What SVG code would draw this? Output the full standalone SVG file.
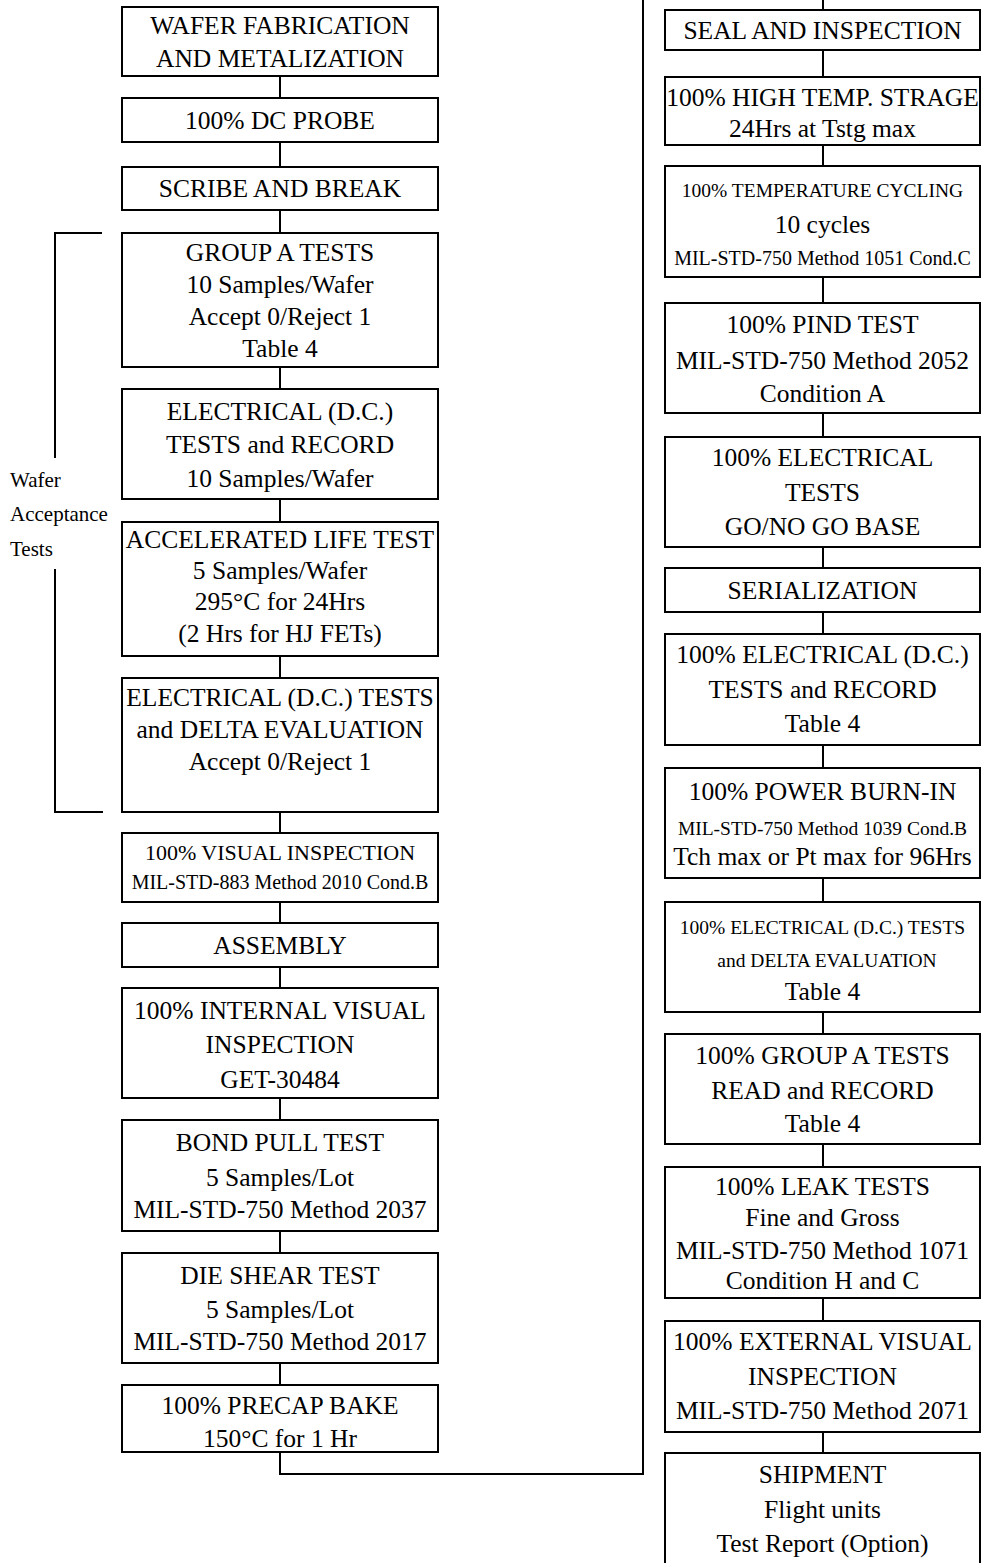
<svg xmlns="http://www.w3.org/2000/svg" width="991" height="1563" viewBox="0 0 991 1563">
<style>
.box{fill:#fff;stroke:#000;stroke-width:2}
.c{fill:none;stroke:#000;stroke-width:2}
text{font-family:"Liberation Serif","Times New Roman",serif;fill:#000}
.t{font-size:25.5px;text-anchor:middle}
.m{font-size:22px;text-anchor:middle}
.s{font-size:20px;text-anchor:middle}
.xs{font-size:19.5px;text-anchor:middle}
.lbl{font-size:21px}
</style>
<rect width="991" height="1563" fill="#fff"/>
<g id="connectors">
<path class="c" d="M280,76V98M280,142V167M280,210V233M280,367V389M280,499V522M280,656V678M280,812V833M280,902V923M280,967V988M280,1098V1120M280,1231V1253M280,1363V1385"/>
<path class="c" d="M280,1452V1474H643V0"/>
<path class="c" d="M823,0V10M823,50V77M823,145V166M823,277V303M823,413V437M823,547V568M823,612V634M823,745V768M823,878V902M823,1012V1034M823,1144V1167M823,1298V1321M823,1432V1453"/>
<path class="c" d="M102,233H55V458M55,569V812H103"/>
</g>
<g id="label-wafer-acceptance">
<text class="lbl" x="10" y="487">Wafer</text>
<text class="lbl" x="10" y="521">Acceptance</text>
<text class="lbl" x="10" y="556">Tests</text>
</g>
<g id="n1"><rect class="box" x="122" y="7" width="316" height="69"/>
<text class="t" x="280" y="34">WAFER FABRICATION</text><text class="t" x="280" y="67">AND METALIZATION</text></g>
<g id="n2"><rect class="box" x="122" y="98" width="316" height="44"/>
<text class="t" x="280" y="128.5">100% DC PROBE</text></g>
<g id="n3"><rect class="box" x="122" y="167" width="316" height="43"/>
<text class="t" x="280" y="196.5">SCRIBE AND BREAK</text></g>
<g id="n4"><rect class="box" x="122" y="233" width="316" height="134"/>
<text class="t" x="280" y="260.5">GROUP A TESTS</text><text class="t" x="280" y="292.5">10 Samples/Wafer</text><text class="t" x="280" y="324.5">Accept 0/Reject 1</text><text class="t" x="280" y="356.5">Table 4</text></g>
<g id="n5"><rect class="box" x="122" y="389" width="316" height="110"/>
<text class="t" x="280" y="419.5">ELECTRICAL (D.C.)</text><text class="t" x="280" y="452.5">TESTS and RECORD</text><text class="t" x="280" y="486.5">10 Samples/Wafer</text></g>
<g id="n6"><rect class="box" x="122" y="522" width="316" height="134"/>
<text class="t" x="280" y="547.5">ACCELERATED LIFE TEST</text><text class="t" x="280" y="578.5">5 Samples/Wafer</text><text class="t" x="280" y="609.5">295°C for 24Hrs</text><text class="t" x="280" y="641.5">(2 Hrs for HJ FETs)</text></g>
<g id="n7"><rect class="box" x="122" y="678" width="316" height="134"/>
<text class="t" x="280" y="705.5">ELECTRICAL (D.C.) TESTS</text><text class="t" x="280" y="737.5">and DELTA EVALUATION</text><text class="t" x="280" y="769.5">Accept 0/Reject 1</text></g>
<g id="n8"><rect class="box" x="122" y="833" width="316" height="69"/>
<text class="m" x="280" y="859.5">100% VISUAL INSPECTION</text><text class="s" x="280" y="888.5">MIL-STD-883 Method 2010 Cond.B</text></g>
<g id="n9"><rect class="box" x="122" y="923" width="316" height="44"/>
<text class="t" x="280" y="953.5">ASSEMBLY</text></g>
<g id="n10"><rect class="box" x="122" y="988" width="316" height="110"/>
<text class="t" x="280" y="1018.5">100% INTERNAL VISUAL</text><text class="t" x="280" y="1052.5">INSPECTION</text><text class="t" x="280" y="1087.5">GET-30484</text></g>
<g id="n11"><rect class="box" x="122" y="1120" width="316" height="111"/>
<text class="t" x="280" y="1150.5">BOND PULL TEST</text><text class="t" x="280" y="1185.5">5 Samples/Lot</text><text class="t" x="280" y="1217.5">MIL-STD-750 Method 2037</text></g>
<g id="n12"><rect class="box" x="122" y="1253" width="316" height="110"/>
<text class="t" x="280" y="1283.5">DIE SHEAR TEST</text><text class="t" x="280" y="1317.5">5 Samples/Lot</text><text class="t" x="280" y="1349.5">MIL-STD-750 Method 2017</text></g>
<g id="n13"><rect class="box" x="122" y="1385" width="316" height="67"/>
<text class="t" x="280" y="1413.5">100% PRECAP BAKE</text><text class="t" x="280" y="1446.5">150°C for 1 Hr</text></g>
<g id="r1"><rect class="box" x="665" y="10" width="315" height="40"/>
<text class="t" x="822.5" y="38.5">SEAL AND INSPECTION</text></g>
<g id="r2"><rect class="box" x="665" y="77" width="315" height="68"/>
<text class="t" x="822.5" y="105.5">100% HIGH TEMP. STRAGE</text><text class="t" x="822.5" y="136.5">24Hrs at Tstg max</text></g>
<g id="r3"><rect class="box" x="665" y="166" width="315" height="111"/>
<text class="xs" x="822.5" y="196.5">100% TEMPERATURE CYCLING</text><text class="t" x="822.5" y="232.5">10 cycles</text><text class="s" x="822.5" y="264.5">MIL-STD-750 Method 1051 Cond.C</text></g>
<g id="r4"><rect class="box" x="665" y="303" width="315" height="110"/>
<text class="t" x="822.5" y="332.5">100% PIND TEST</text><text class="t" x="822.5" y="368.5">MIL-STD-750 Method 2052</text><text class="t" x="822.5" y="401.5">Condition A</text></g>
<g id="r5"><rect class="box" x="665" y="437" width="315" height="110"/>
<text class="t" x="822.5" y="465.5">100% ELECTRICAL</text><text class="t" x="822.5" y="500.5">TESTS</text><text class="t" x="822.5" y="534.5">GO/NO GO BASE</text></g>
<g id="r6"><rect class="box" x="665" y="568" width="315" height="44"/>
<text class="t" x="822.5" y="598.5">SERIALIZATION</text></g>
<g id="r7"><rect class="box" x="665" y="634" width="315" height="111"/>
<text class="t" x="822.5" y="662.5">100% ELECTRICAL (D.C.)</text><text class="t" x="822.5" y="697.5">TESTS and RECORD</text><text class="t" x="822.5" y="731.5">Table 4</text></g>
<g id="r8"><rect class="box" x="665" y="768" width="315" height="110"/>
<text class="t" x="822.5" y="799.5">100% POWER BURN-IN</text><text class="xs" x="822.5" y="834.5">MIL-STD-750 Method 1039 Cond.B</text><text class="t" x="822.5" y="864.5">Tch max or Pt max for 96Hrs</text></g>
<g id="r9"><rect class="box" x="665" y="902" width="315" height="110"/>
<text class="xs" x="822.5" y="933.5">100% ELECTRICAL (D.C.) TESTS</text><text class="xs" x="827" y="966.5">and DELTA EVALUATION</text><text class="t" x="822.5" y="999.5">Table 4</text></g>
<g id="r10"><rect class="box" x="665" y="1034" width="315" height="110"/>
<text class="t" x="822.5" y="1063.5">100% GROUP A TESTS</text><text class="t" x="822.5" y="1098.5">READ and RECORD</text><text class="t" x="822.5" y="1131.5">Table 4</text></g>
<g id="r11"><rect class="box" x="665" y="1167" width="315" height="131"/>
<text class="t" x="822.5" y="1194.5">100% LEAK TESTS</text><text class="t" x="822.5" y="1225.5">Fine and Gross</text><text class="t" x="822.5" y="1258.5">MIL-STD-750 Method 1071</text><text class="t" x="822.5" y="1288.5">Condition H and C</text></g>
<g id="r12"><rect class="box" x="665" y="1321" width="315" height="111"/>
<text class="t" x="822.5" y="1349.5">100% EXTERNAL VISUAL</text><text class="t" x="822.5" y="1384.5">INSPECTION</text><text class="t" x="822.5" y="1418.5">MIL-STD-750 Method 2071</text></g>
<g id="r13"><rect class="box" x="665" y="1453" width="315" height="130"/>
<text class="t" x="822.5" y="1482.5">SHIPMENT</text><text class="t" x="822.5" y="1517.5">Flight units</text><text class="t" x="822.5" y="1551.5">Test Report (Option)</text></g>
</svg>
